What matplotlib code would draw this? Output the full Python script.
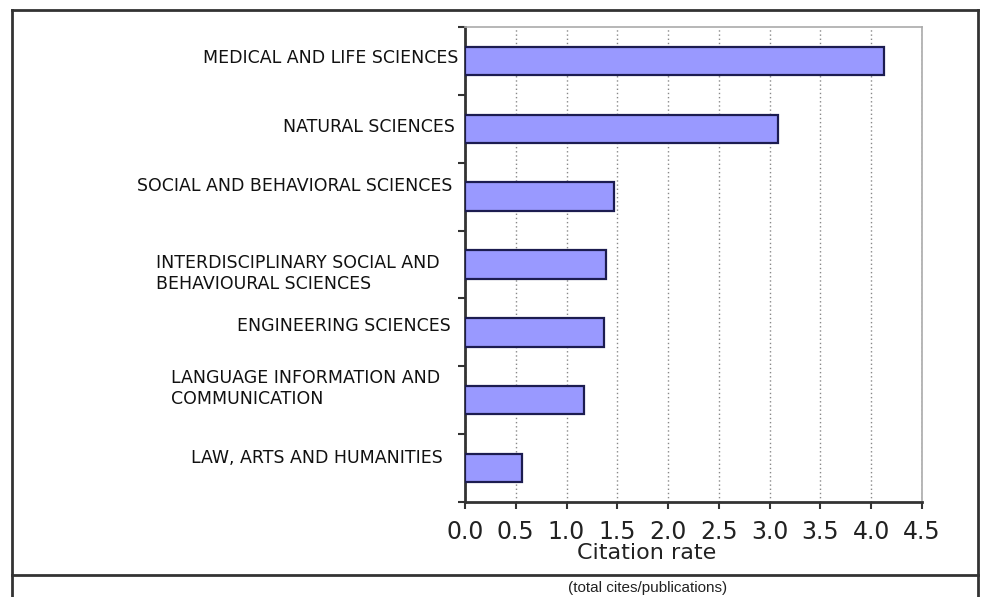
import matplotlib
matplotlib.use("Agg")
import matplotlib.pyplot as plt
from matplotlib.lines import Line2D
import numpy as np

categories = [
    "MEDICAL AND LIFE SCIENCES",
    "NATURAL SCIENCES",
    "SOCIAL AND BEHAVIORAL SCIENCES",
    "INTERDISCIPLINARY SOCIAL AND\nBEHAVIOURAL SCIENCES",
    "ENGINEERING SCIENCES",
    "LANGUAGE INFORMATION AND\nCOMMUNICATION",
    "LAW, ARTS AND HUMANITIES",
]
citation_rate = [4.13, 3.08, 1.47, 1.39, 1.37, 1.17, 0.56]
x_ticks = [0.0, 0.5, 1.0, 1.5, 2.0, 2.5, 3.0, 3.5, 4.0, 4.5]
x_tick_labels = ["0.0", "0.5", "1.0", "1.5", "2.0", "2.5", "3.0", "3.5", "4.0", "4.5"]
# vertical nudges of category labels (points)
label_dy = [2, 1.5, 8, -6.5, 4.5, 8.5, 7]
# horizontal gap of category labels from axis (points)
label_dx = [-5, -7, -9, -18, -10, -18, -16]

plt.rcParams['font.family'] = ['DejaVu Sans']

fig = plt.figure(figsize=(9.83, 5.97), dpi=100)
W, H = 983, 597
ax = fig.add_axes([465 / W, 1 - 502 / H, (922 - 465) / W, (502 - 27) / H])

y = np.arange(len(categories))
ax.barh(y, citation_rate, height=0.42, color="#9999ff", edgecolor="#1c1c50", linewidth=1.6, zorder=3)

ax.set_xlim(0, 4.5)
ax.set_ylim(len(categories) - 0.5, -0.5)
ax.set_xticks(x_ticks)
ax.set_xticklabels(x_tick_labels, fontsize=17, color="#222222")
ax.set_yticks(np.arange(len(categories) + 1) - 0.5)
ax.set_yticklabels([])
ax.tick_params(axis="x", direction="out", length=5, width=1.5, color="#333333", pad=8)
ax.tick_params(axis="y", direction="out", length=5, width=1.5, color="#333333")

ax.xaxis.grid(True, linestyle=(0, (1, 2)), color="#888888", linewidth=1, zorder=0)
ax.set_axisbelow(True)

for s in ["left", "bottom"]:
    ax.spines[s].set_color("#333333")
    ax.spines[s].set_linewidth(2)
for s in ["top", "right"]:
    ax.spines[s].set_color("#aaaaaa")
    ax.spines[s].set_linewidth(1.2)

for i, (lab, dy, dx) in enumerate(zip(categories, label_dy, label_dx)):
    ax.annotate(lab, xy=(0, i), xycoords=("axes fraction", "data"),
                xytext=(dx, dy), textcoords="offset points",
                ha="right", va="center", multialignment="left",
                fontsize=12.5, color="#111111", linespacing=1.2)

fig.text(647 / W, 1 - 553 / H, "Citation rate", ha="center", va="center", fontsize=16, color="#222222")
fig.text(648 / W, 1 - 588 / H, "(total cites/publications)", ha="center", va="center",
         fontsize=11, color="#222222", family=["Liberation Sans", "DejaVu Sans"])

# outer frame lines
frame_kw = dict(color="#333333", linewidth=2, transform=fig.transFigure)
fig.add_artist(Line2D([12 / W, 978 / W], [1 - 10 / H, 1 - 10 / H], **frame_kw))
fig.add_artist(Line2D([12 / W, 12 / W], [1 - 10 / H, 0], **frame_kw))
fig.add_artist(Line2D([978 / W, 978 / W], [1 - 10 / H, 0], **frame_kw))
fig.add_artist(Line2D([12 / W, 978 / W], [1 - 575 / H, 1 - 575 / H], **frame_kw))

fig.savefig("out.png", dpi=100)
